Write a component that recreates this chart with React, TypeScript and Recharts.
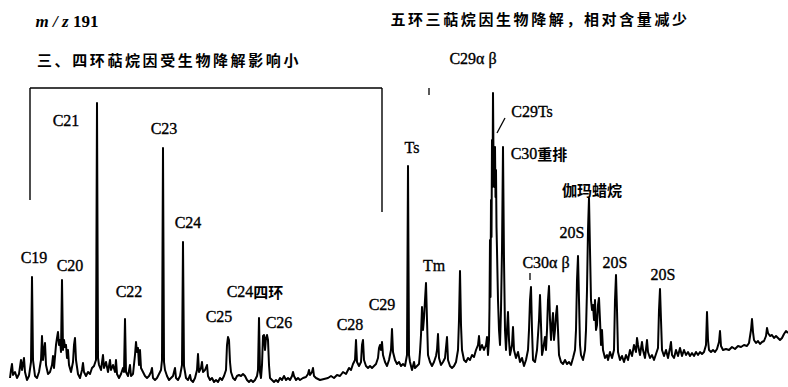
import React from 'react';
import { LineChart, Line, XAxis, YAxis, ReferenceDot, ReferenceLine } from 'recharts';

// m/z 191 mass chromatogram: [scan, abundance]
const tricyclicTrace: [number, number][] = [
  [10, 9], [11, 17], [12, 23], [13, 12], [15, 15], [17, 9], [19, 13], [21, 27], [22, 17], [24, 29],
  [25, 15], [27, 7], [29, 11], [31, 25], [32, 110], [33, 27], [35, 11], [37, 9], [39, 15], [41, 27],
  [42, 51], [43, 27], [44, 37], [45, 44], [46, 22], [48, 13], [50, 15], [52, 22], [53, 31], [54, 19],
  [56, 42], [57, 49], [58, 55], [59, 42], [60, 47], [61, 35], [62, 107], [63, 37], [64, 47], [65, 40],
  [66, 42], [67, 29], [68, 37], [69, 22], [71, 15], [73, 25], [74, 42], [75, 49], [76, 27], [78, 13],
  [80, 9], [82, 17], [83, 24], [84, 15], [86, 11], [88, 15], [90, 13], [92, 19], [94, 21], [96, 27],
  [97, 284], [98, 29], [99, 22], [101, 17], [103, 32], [104, 19], [106, 25], [108, 15], [110, 27], [111, 17],
  [113, 22], [115, 15], [116, 27], [117, 13], [119, 9], [121, 13], [123, 19], [124, 15], [125, 68], [126, 15],
  [128, 11], [130, 22], [131, 11], [133, 13], [135, 32], [136, 45], [137, 35], [138, 39], [139, 22], [140, 37],
  [141, 19], [143, 15], [145, 11], [147, 9], [149, 11], [151, 15], [152, 19], [153, 9], [155, 7], [157, 9],
  [159, 13], [161, 17], [162, 27], [163, 239], [164, 25], [165, 17], [167, 11], [169, 7], [171, 9], [173, 11],
  [175, 19], [176, 9], [178, 7], [180, 11], [182, 22], [183, 145], [184, 21], [186, 9], [188, 7], [190, 12],
  [191, 7], [193, 5], [195, 9], [197, 17], [198, 33], [199, 15], [201, 19], [202, 25], [203, 15], [205, 17],
  [207, 22], [208, 11], [210, 7], [212, 9], [214, 5], [216, 7], [218, 5], [220, 9], [222, 7], [224, 11],
  [226, 17], [227, 42], [228, 50], [229, 47], [230, 25], [231, 15], [233, 9], [235, 7], [237, 11], [239, 12],
  [241, 11], [243, 13], [245, 11], [247, 7], [249, 5], [251, 7], [253, 5], [255, 7], [257, 11], [258, 17],
  [259, 69], [260, 15], [261, 9], [262, 22], [263, 51], [264, 52], [265, 37], [266, 49], [267, 52], [268, 47],
  [269, 22], [270, 9], [272, 7], [274, 5], [276, 7], [278, 5], [280, 9], [282, 7], [284, 11], [286, 7],
  [288, 9], [290, 7], [292, 11], [293, 15], [294, 11], [296, 7], [298, 9], [300, 7], [303, 9], [306, 10],
  [308, 13], [309, 17], [310, 12], [312, 15], [313, 19], [314, 11], [316, 9], [320, 7], [324, 8], [328, 9],
  [331, 11], [334, 9], [337, 12], [340, 11], [343, 15], [346, 13], [349, 19], [351, 17], [353, 23], [355, 27],
  [356, 47], [357, 25], [359, 21], [361, 25], [362, 42], [363, 47], [364, 27], [366, 21], [368, 19], [370, 21],
  [372, 19], [374, 21], [376, 23], [378, 29], [379, 39], [380, 42], [381, 37], [382, 45], [383, 32], [385, 25],
  [387, 21], [389, 27], [391, 37], [392, 58], [393, 35], [395, 27], [397, 23], [399, 25],
];

const hopaneTrace: [number, number][] = [
  [401, 21], [403, 23], [405, 21], [407, 32], [408, 221], [409, 32], [410, 25], [412, 17], [414, 25], [415, 19],
  [417, 21], [419, 23], [420, 35], [421, 52], [422, 80], [423, 57], [424, 69], [425, 87], [426, 104], [427, 67],
  [428, 32], [430, 25], [432, 21], [434, 25], [436, 31], [437, 37], [438, 53], [439, 29], [441, 22], [443, 25],
  [445, 29], [447, 50], [448, 27], [450, 21], [452, 19], [454, 21], [456, 25], [458, 37], [459, 67], [460, 116],
  [461, 62], [462, 37], [464, 27], [466, 25], [468, 29], [470, 27], [472, 32], [474, 30], [476, 37], [478, 42],
  [479, 51], [480, 37], [482, 42], [484, 37], [486, 42], [487, 50], [488, 32], [489, 47], [489.5, 80], [490, 147],
  [490.5, 90], [491, 187], [491.5, 150], [492, 247], [492.5, 200], [493, 294], [493.5, 230], [494, 227], [494.5, 200],
  [495, 240], [495.5, 190], [496, 217], [496.5, 160], [497, 137], [498, 87], [499, 57], [500, 42], [501, 77],
  [502, 137], [503, 240], [504, 127], [505, 57], [506, 37], [507, 57], [508, 75], [509, 47], [510, 32], [512, 42],
  [513, 60], [514, 37], [516, 29], [518, 35], [520, 25], [522, 29], [524, 21], [526, 27], [528, 37], [529, 57],
  [530, 87], [531, 100], [532, 57], [533, 27], [535, 25], [537, 37], [539, 67], [540, 92], [541, 62], [542, 32],
  [543, 37], [545, 50], [546, 37], [547, 57], [548, 87], [549, 101], [550, 67], [551, 47], [552, 62], [553, 74],
  [554, 47], [555, 57], [556, 72], [557, 81], [558, 57], [559, 32], [561, 25], [563, 23], [565, 27], [567, 23],
  [569, 25], [571, 22], [573, 29], [575, 37], [576, 57], [577, 107], [578, 131], [579, 87], [580, 42], [581, 32],
  [583, 27], [585, 37], [586, 57], [587, 97], [588, 157], [589, 189], [590, 137], [591, 87], [592, 77], [593, 82],
  [594, 67], [595, 87], [596, 57], [597, 62], [598, 82], [599, 89], [600, 67], [601, 42], [602, 57], [603, 37],
  [605, 29], [607, 32], [608, 27], [610, 35], [612, 29], [614, 37], [615, 87], [616, 112], [617, 77], [618, 35],
  [620, 27], [622, 31], [624, 25], [626, 32], [628, 27], [630, 37], [632, 31], [634, 42], [636, 35], [637, 49],
  [638, 42], [640, 32], [642, 45], [643, 37], [645, 29], [647, 47], [648, 35], [650, 29], [652, 32], [654, 27],
  [656, 33], [658, 39], [659, 77], [660, 98], [661, 67], [662, 37], [664, 31], [666, 37], [668, 29], [670, 39],
  [671, 45], [672, 32], [674, 29], [676, 37], [678, 31], [680, 39], [682, 31], [684, 37], [686, 32], [688, 35],
  [690, 31], [692, 34], [694, 31], [696, 35], [698, 32], [700, 35], [702, 33], [704, 35], [706, 42], [707, 75],
  [708, 47], [709, 37], [711, 35], [713, 37], [715, 35], [717, 38], [719, 45], [720, 56], [721, 41], [723, 37],
  [726, 38], [729, 37], [732, 40], [735, 38], [738, 41], [741, 40], [744, 42], [747, 41], [749, 44], [751, 57],
  [752, 68], [753, 55], [754, 47], [756, 44], [758, 46], [760, 43], [762, 45], [764, 46], [766, 51], [767, 59],
  [768, 54], [770, 51], [772, 52], [774, 49], [776, 51], [778, 49], [780, 47], [782, 49], [784, 53], [786, 56],
  [788, 54],
];

// Peak annotations: text, scan, abundance level of label
const peakLabels = [
  { text: 'C19', t: 34, a: 130 },
  { text: 'C20', t: 70, a: 122 },
  { text: 'C21', t: 66, a: 267 },
  { text: 'C22', t: 129, a: 96 },
  { text: 'C23', t: 164, a: 259 },
  { text: 'C24', t: 188, a: 165 },
  { text: 'C25', t: 219, a: 71 },
  { text: 'C24四环', t: 255, a: 96 },
  { text: 'C26', t: 279, a: 65 },
  { text: 'C28', t: 350, a: 63 },
  { text: 'C29', t: 382, a: 83 },
  { text: 'Ts', t: 412, a: 240 },
  { text: 'Tm', t: 434, a: 122 },
  { text: 'C29α β', t: 473, a: 329 },
  { text: 'C29Ts', t: 532, a: 276 },
  { text: 'C30重排', t: 539, a: 234 },
  { text: '伽玛蜡烷', t: 592, a: 198 },
  { text: '20S', t: 572, a: 155 },
  { text: 'C30α β', t: 546, a: 125 },
  { text: '20S', t: 615, a: 125 },
  { text: '20S', t: 663, a: 113 },
];

const headerTexts = [
  { text: '三、四环萜烷因受生物降解影响小', t: 169, a: 328 },
  { text: '五环三萜烷因生物降解，相对含量减少', t: 540, a: 369 },
];

const massLabel = { t: 67, a: 366 };

// bracket and marker strokes [scan, abundance] pairs
const bracketSegments: [number, number][][] = [
  [[30, 187], [30, 299]],
  [[30, 299], [382, 299]],
  [[382, 299], [382, 175]],
];
const markSegments: [number, number][][] = [
  [[505, 269], [497, 254]],
  [[429, 299], [429, 292]],
  [[530, 114], [530, 107]],
];

const data = [...tricyclicTrace, ...hopaneTrace].map(([t, a]) => ({ t, a }));

const CJK = /[\u3000-\u303f\u4e00-\u9fff\uff00-\uffef]+|[^\u3000-\u303f\u4e00-\u9fff\uff00-\uffef]+/g;
const isCJK = (s: string) => /[\u3000-\u303f\u4e00-\u9fff\uff00-\uffef]/.test(s);

const MixedLabel = (text: string) => (props: any) => {
  const vb = props.viewBox || {};
  const x = (vb.x ?? 0) + (vb.width ?? 0) / 2;
  const y = (vb.y ?? 0) + (vb.height ?? 0) / 2;
  const runs = text.match(CJK) || [];
  return (
    <text x={x} y={y} textAnchor="middle" dominantBaseline="central" fill="#000">
      {runs.map((r, i) =>
        isCJK(r) ? (
          <tspan key={i} fontFamily="'Noto Sans CJK SC'" fontWeight={700} fontSize={15}>{r}</tspan>
        ) : (
          <tspan key={i} fontFamily="'Liberation Serif', serif" fontSize={16} stroke="#000" strokeWidth={0.35}>{r}</tspan>
        )
      )}
    </text>
  );
};

const HeaderLabel = (text: string) => (props: any) => {
  const vb = props.viewBox || {};
  const x = (vb.x ?? 0) + (vb.width ?? 0) / 2;
  const y = (vb.y ?? 0) + (vb.height ?? 0) / 2;
  return (
    <text x={x} y={y} textAnchor="middle" dominantBaseline="central" fill="#000"
      fontFamily="'Noto Sans CJK SC'" fontWeight={700} fontSize={15} letterSpacing={2.6}>
      {text}
    </text>
  );
};

const MassLabel = (props: any) => {
  const vb = props.viewBox || {};
  const x = (vb.x ?? 0) + (vb.width ?? 0) / 2;
  const y = (vb.y ?? 0) + (vb.height ?? 0) / 2;
  return (
    <text x={x} y={y} textAnchor="middle" dominantBaseline="central" fill="#000"
      fontFamily="'Liberation Serif', serif" fontWeight={700} fontSize={17}>
      <tspan fontStyle="italic">m / z</tspan>
      <tspan> 191</tspan>
    </text>
  );
};

export default function App() {
  return (
    <div style={{ position: 'absolute', left: 0, top: 0, width: 788, height: 387, background: '#fff' }}>
      <LineChart width={788} height={387} data={data} margin={{ top: 0, right: 0, bottom: 0, left: 0 }}>
        <XAxis hide type="number" dataKey="t" domain={[0, 788]} allowDataOverflow />
        <YAxis hide type="number" domain={[0, 387]} allowDataOverflow />
        <Line
          type="linear"
          dataKey="a"
          stroke="#000"
          strokeWidth={2}
          strokeLinejoin="round"
          dot={false}
          activeDot={false}
          isAnimationActive={false}
        />
        {bracketSegments.map((s, i) => (
          <ReferenceLine key={'b' + i} segment={s.map(([x, y]) => ({ x, y }))} stroke="#000" strokeWidth={1.4} ifOverflow="visible" />
        ))}
        {markSegments.map((s, i) => (
          <ReferenceLine key={'m' + i} segment={s.map(([x, y]) => ({ x, y }))} stroke="#000" strokeWidth={1.3} ifOverflow="visible" />
        ))}
        {peakLabels.map((l, i) => (
          <ReferenceDot key={'p' + i} x={l.t} y={l.a} r={0} stroke="none" fill="none" ifOverflow="visible"
            label={{ content: MixedLabel(l.text) }} />
        ))}
        {headerTexts.map((l, i) => (
          <ReferenceDot key={'h' + i} x={l.t} y={l.a} r={0} stroke="none" fill="none" ifOverflow="visible"
            label={{ content: HeaderLabel(l.text) }} />
        ))}
        <ReferenceDot x={massLabel.t} y={massLabel.a} r={0} stroke="none" fill="none" ifOverflow="visible"
          label={{ content: MassLabel }} />
      </LineChart>
    </div>
  );
}
